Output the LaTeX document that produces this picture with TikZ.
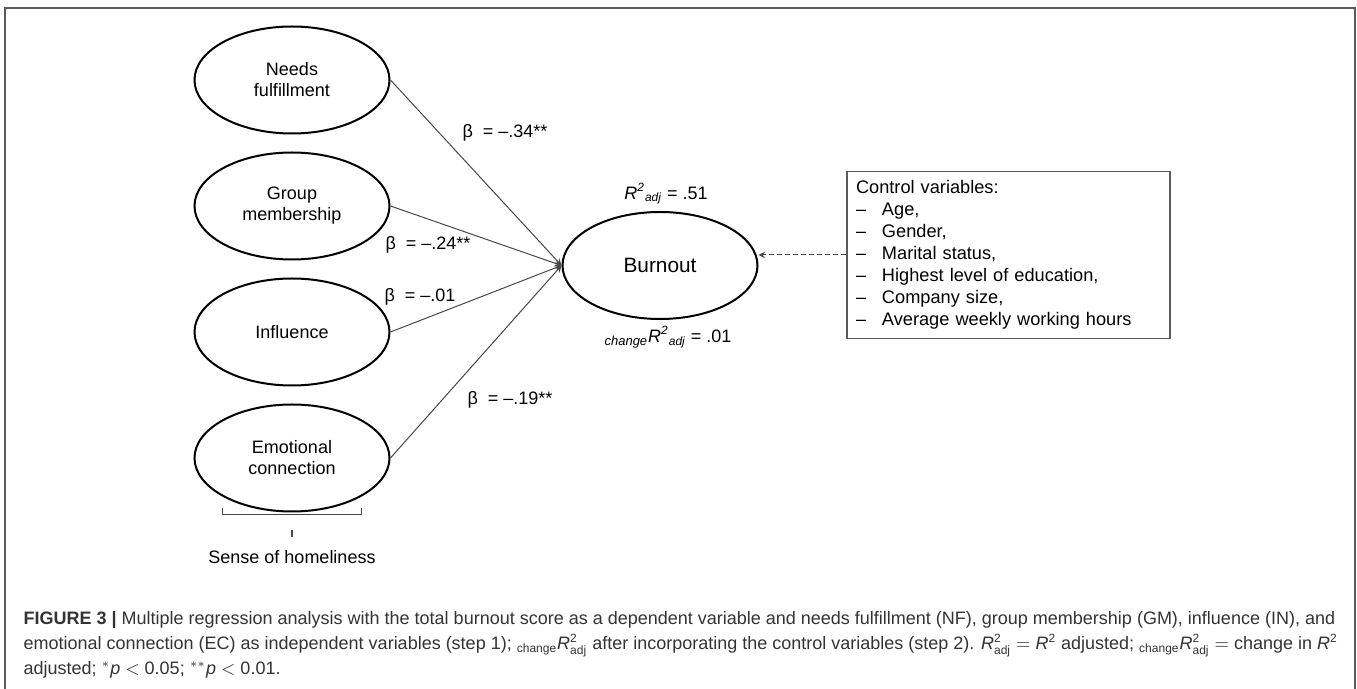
\documentclass[tikz,border=0pt]{standalone}
\usepackage{amsmath}
\usepackage{fontspec}
\setmainfont{Liberation Sans}
\usetikzlibrary{arrows, shapes.geometric}

\definecolor{linegray}{HTML}{474747}
\definecolor{framegray}{HTML}{5A5A5A}
\definecolor{capgray}{HTML}{333333}

\newcommand{\radj}{\textit{R\textsuperscript{2}\textsubscript{adj}}}
\newcommand{\ctrlitem}[1]{\makebox[13pt][l]{--}#1}
\newcommand{\capchg}{$_{\text{change}}\textit{R}^{\text{2}}_{\text{adj}}$}
\newcommand{\capr}{$\textit{R}^{\text{2}}_{\text{adj}}$}

\begin{document}
\begin{tikzpicture}[
            x = 0.5pt, y = -0.5pt, % one unit per pixel, y downwards
            > = stealth, % arrow head style
            node distance = 63pt, % distance between the factors
            font = \fontsize{9}{10.5}\selectfont,
            semithick % line style
        ]

        \tikzstyle{factor}=[
            ellipse,
            draw = black,
            line width = 1pt,
            minimum width = 97.5pt,
            minimum height = 53.5pt,
            inner sep = 0pt,
            align = center
        ]
        \tikzstyle{link}=[draw = linegray, line width = 0.5pt]
        \tikzstyle{ctrlbox}=[
            draw = framegray,
            line width = 0.75pt,
            minimum width = 161.5pt,
            minimum height = 82pt,
            text width = 152.5pt,
            inner sep = 4.5pt,
            align = left,
            font = \fontsize{9.1}{11}\selectfont
        ]
        \tikzstyle{caption}=[
            anchor = base west,
            inner sep = 0pt,
            text = capgray,
            font = \fontsize{9}{10.5}\selectfont
        ]

        \useasboundingbox (0,0) rectangle (1357,689);
        \draw[framegray, line width = 1pt] (5,689) -- (5,8) -- (1355,8) -- (1355,689);

        % the four factors of homeliness
        \node[factor] (nf) at (292,80) {Needs\\fulfillment};
        \node[factor] (gm) [below of=nf] {Group\\membership};
        \node[factor] (in) [below of=gm] {Influence};
        \node[factor] (ec) [below of=in] {Emotional\\connection};

        \node[factor, font=\fontsize{10.4}{12}\selectfont] (burnout) at (660,265.5) {Burnout};
        \node (r2) [above of=burnout, node distance=36pt, xshift=3pt] {\radj\ = .51};
        \node (r2chg) [below of=burnout, node distance=36pt, xshift=4pt] {\textsubscript{\textit{\fontsize{6.5}{7}\selectfont change}}\radj\ = .01};

        \node[ctrlbox] (ctrl) at (1008.5,255) {Control variables:\\
            \ctrlitem{Age,}\\
            \ctrlitem{Gender,}\\
            \ctrlitem{Marital status,}\\
            \ctrlitem{Highest level of education,}\\
            \ctrlitem{Company size,}\\
            \ctrlitem{Average weekly working hours}};

        \draw[->, link] (nf.east) -- (burnout.west);
        \draw[->, link] (gm.east) -- (burnout.west);
        \draw[->, link] (in.east) -- (burnout.west);
        \draw[->, link] (ec.east) -- (burnout.west);
        \draw[->, link, dash pattern=on 2.5pt off 1.5pt] (ctrl.west) -- (ctrl.west -| burnout.east);

        \node (b1) at (505,133) {β\ \ = --.34**};
        \node (b2) at (428,245) {β\ \ = --.24**};
        \node (b3) at (420,297) {β\ \ = --.01};
        \node (b4) at (510,400) {β\ \ = --.19**};

        % bracket under the factors
        \coordinate (bl) at ([yshift=-5.5pt]ec.south west);
        \coordinate (br) at ([yshift=-5.5pt]ec.south east);
        \draw[link, line width = 0.6pt] (bl) -- ++(0,7) -| (br);
        \draw[link, line width = 0.6pt] ([yshift=-9pt]ec.south) -- ++(0,7);
        \node (home) [below of=ec, node distance=49.5pt] {Sense of homeliness};

        % caption
        \node[caption] (cap1) at (23,625) {\textbf{FIGURE 3 |} Multiple regression analysis with the total burnout score as a dependent variable and needs fulfillment (NF), group membership (GM), influence (IN), and};
        \node[caption] (cap2) at (23,650) {emotional connection (EC) as independent variables (step 1); \capchg{} after incorporating the control variables (step 2). \capr{} $=$ \textit{R}$^{\text{2}}$ adjusted; \capchg{} $=$ change in \textit{R}$^{\text{2}}$};
        \node[caption] (cap3) at (23,675) {adjusted; $^{*}$\textit{p} $<$ 0.05; $^{**}$\textit{p} $<$ 0.01.};

\end{tikzpicture}
\end{document}
